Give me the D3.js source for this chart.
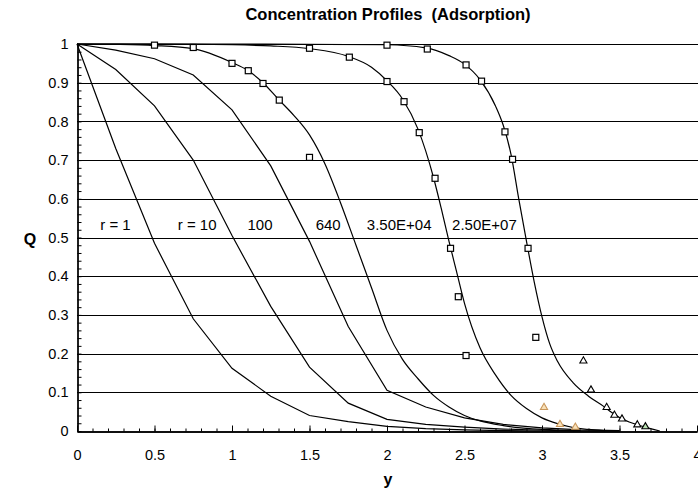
<!DOCTYPE html>
<html><head><meta charset="utf-8">
<script src="https://cdn.jsdelivr.net/npm/d3@7"></script>
<style>html,body{margin:0;padding:0;background:#fff;}svg{display:block;font-family:"Liberation Sans",Arial,sans-serif;}</style>
</head><body><svg id="c" width="698" height="499"></svg>
<script>
// ---- data ----
const title = "Concentration Profiles  (Adsorption)";
const xTitle = "y", yTitle = "Q";
const xTickValues = [0,0.5,1,1.5,2,2.5,3,3.5,4];
const xTickLabels = ["0","0.5","1","1.5","2","2.5","3","3.5","4"];
const yTickValues = [0,0.1,0.2,0.3,0.4,0.5,0.6,0.7,0.8,0.9,1];
const yTickLabels = ["0","0.1","0.2","0.3","0.4","0.5","0.6","0.7","0.8","0.9","1"];

// curves with points every 0.25 in y
const gridY = [0,0.25,0.5,0.75,1,1.25,1.5,1.75,2,2.25,2.5,2.75,3,3.25,3.5];
const qR1   = [1,0.73,0.485,0.29,0.162,0.09,0.04,0.024,0.012,0.006,0.003,0.001,0,0,0];
const qR10  = [1,0.934,0.84,0.70,0.505,0.322,0.165,0.072,0.030,0.017,0.010,0.005,0.002,0,0];
const qR100 = [1,0.984,0.962,0.92,0.83,0.685,0.49,0.27,0.105,0.062,0.034,0.017,0.008,0.003,0.001];
// finer curves
const y640  = [0,0.25,0.5,0.75,1,1.1,1.2,1.3,1.4,1.5,1.6,1.7,1.8,1.9,2,2.1,2.2,2.3,2.4,2.5,2.6,2.75,3,3.25];
const q640  = [1,0.999,0.996,0.988,0.952,0.932,0.9,0.857,0.815,0.765,0.69,0.59,0.48,0.37,0.26,0.185,0.135,0.092,0.062,0.04,0.026,0.014,0.004,0.001];
const y35e4 = [0,0.5,1,1.25,1.5,1.75,1.9,2,2.1,2.2,2.3,2.35,2.4,2.45,2.5,2.6,2.7,2.8,2.9,3,3.1,3.2,3.3,3.4];
const q35e4 = [1,1,0.998,0.995,0.988,0.968,0.94,0.905,0.858,0.78,0.655,0.575,0.49,0.41,0.33,0.215,0.145,0.092,0.058,0.034,0.019,0.009,0.004,0.001];
const y25e7 = [0,1,2,2.25,2.4,2.5,2.6,2.7,2.75,2.8,2.85,2.9,2.95,3,3.05,3.1,3.2,3.3,3.4,3.45,3.5,3.6,3.7,3.76];
const q25e7 = [1,1,0.998,0.99,0.97,0.948,0.908,0.84,0.79,0.715,0.6,0.49,0.385,0.295,0.225,0.18,0.125,0.09,0.063,0.048,0.035,0.018,0.006,0];

const curveLabels = ["r = 1","r = 10","100","640","3.50E+04","2.50E+07"];
const curveLabelX = [0.15,0.65,1.1,1.54,1.87,2.42];
const curveLabelQ = [0.52,0.52,0.52,0.52,0.52,0.52];

// experimental points
const sqY = [0.5,0.75,1.0,1.105,1.2,1.305,1.5,1.5,1.757,2.0,2.0,2.11,2.208,2.31,2.26,2.51,2.61,2.761,2.81,2.41,2.91,2.46,2.96,2.51];
const sqQ = [0.997,0.991,0.950,0.931,0.898,0.855,0.707,0.989,0.966,0.997,0.903,0.851,0.771,0.653,0.987,0.946,0.904,0.773,0.702,0.472,0.472,0.347,0.242,0.195];
const triY = [3.267,3.316,3.417,3.467,3.516,3.615];
const triQ = [0.181,0.106,0.061,0.041,0.031,0.016];
const triOrY = [3.013,3.116,3.215];
const triOrQ = [0.061,0.017,0.010];
const triGrY = [3.667];
const triGrQ = [0.011];

// ---- drawing ----
const svg = d3.select("#c");
const x = d3.scaleLinear().domain([0,4]).range([77,697]);
const yS = d3.scaleLinear().domain([0,1]).range([431,44]);

svg.append("text").attr("x",388).attr("y",20).attr("text-anchor","middle")
  .style("white-space","pre")
  .attr("font-weight","bold").attr("font-size",16.5).text(title);

// gridlines
svg.append("g").selectAll("line").data(yTickValues.filter(v=>v>0)).join("line")
  .attr("x1",77).attr("x2",698).attr("y1",d=>Math.round(yS(d))+0.5).attr("y2",d=>Math.round(yS(d))+0.5)
  .attr("stroke","#000").attr("stroke-width",1);

// axes
const minorX = d3.range(0,41).map(i=>i/10);
const minorY = d3.range(0,51).map(i=>i/50);
const gx = svg.append("g").attr("transform","translate(0,431.5)");
gx.call(d3.axisBottom(x).tickValues(minorX).tickSizeInner(-3).tickSizeOuter(0).tickFormat(""));
gx.append("g").call(d3.axisBottom(x).tickValues(xTickValues).tickSizeInner(-6).tickSizeOuter(0)
  .tickPadding(18).tickFormat((d,i)=>xTickLabels[i]));
const gy = svg.append("g").attr("transform","translate(77.5,0)");
gy.call(d3.axisLeft(yS).tickValues(minorY).tickSizeInner(-4).tickSizeOuter(0).tickFormat(""));
gy.append("g").call(d3.axisLeft(yS).tickValues(yTickValues).tickSizeInner(0).tickSizeOuter(0)
  .tickPadding(9).tickFormat((d,i)=>yTickLabels[i]));
svg.selectAll(".tick text").attr("font-size",14.5).attr("font-family","Liberation Sans, Arial, sans-serif").attr("fill","#000");
svg.selectAll(".domain").attr("stroke","#000").attr("stroke-width",1.3);
svg.selectAll(".tick line").attr("stroke","#000");

svg.append("text").attr("x",388).attr("y",485).attr("text-anchor","middle")
  .attr("font-weight","bold").attr("font-size",16).text(xTitle);
svg.append("text").attr("x",30).attr("y",245).attr("text-anchor","middle")
  .attr("font-weight","bold").attr("font-size",16).text(yTitle);

// curves
const line = d3.line().x(d=>x(d[0])).y(d=>yS(d[1]));
const lineSmooth = d3.line().x(d=>x(d[0])).y(d=>yS(d[1])).curve(d3.curveMonotoneX);
const cg = svg.append("g").attr("fill","none").attr("stroke","#000").attr("stroke-width",1.2);
[qR1,qR10,qR100].forEach(q=>{
  cg.append("path").attr("d", line(gridY.map((v,i)=>[v,q[i]])));
});
[[y640,q640],[y35e4,q35e4],[y25e7,q25e7]].forEach(([ys,qs])=>{
  cg.append("path").attr("d", lineSmooth(ys.map((v,i)=>[v,qs[i]])));
});

// curve labels
svg.append("g").selectAll("text").data(curveLabels).join("text")
  .attr("x",(d,i)=>x(curveLabelX[i])).attr("y",(d,i)=>yS(curveLabelQ[i]))
  .attr("font-size",15).text(d=>d);

// squares
svg.append("g").selectAll("rect").data(sqY.map((v,i)=>[v,sqQ[i]])).join("rect")
  .attr("x",d=>x(d[0])-3).attr("y",d=>yS(d[1])-3).attr("width",6).attr("height",6)
  .attr("fill","#fff").attr("stroke","#000").attr("stroke-width",1.2);

const tri = d3.symbol().type(d3.symbolTriangle).size(22);
function triangles(ys,qs,stroke,fill){
  svg.append("g").selectAll("path").data(ys.map((v,i)=>[v,qs[i]])).join("path")
    .attr("d",tri).attr("transform",d=>`translate(${x(d[0])},${yS(d[1])})`)
    .attr("fill",fill).attr("stroke",stroke).attr("stroke-width",1.1);
}
triangles(triY,triQ,"#000","#fff");
triangles(triOrY,triOrQ,"#c8965a","#f8e0b8");
triangles(triGrY,triGrQ,"#000","#b8e0b0");
</script></body></html>
